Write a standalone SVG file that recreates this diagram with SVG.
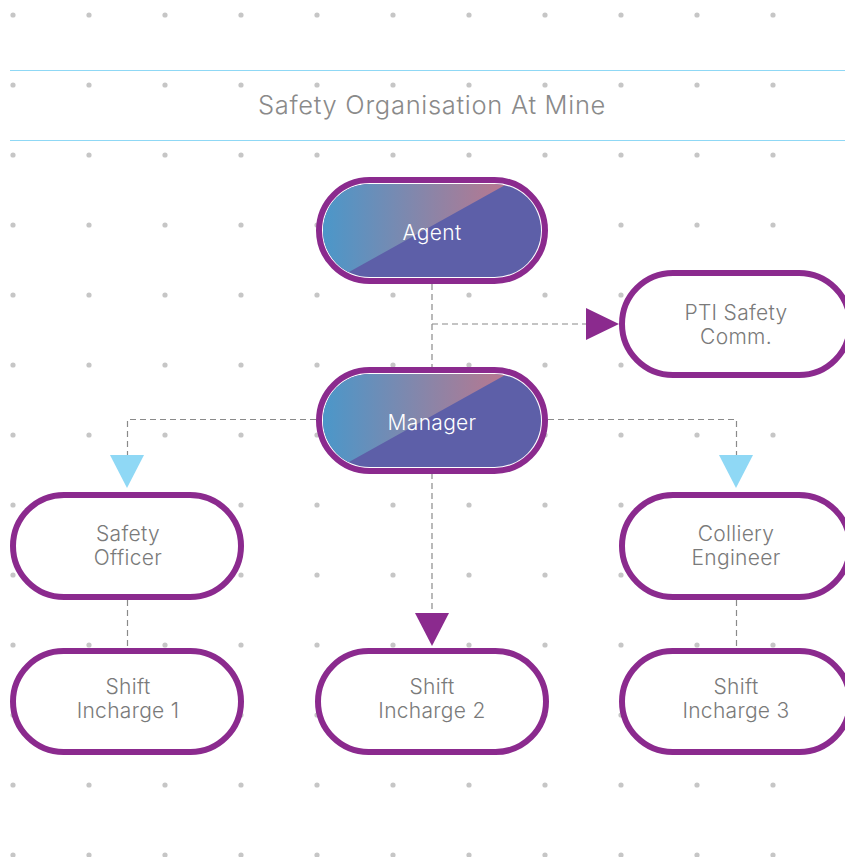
<svg xmlns="http://www.w3.org/2000/svg" width="845" height="857" viewBox="0 0 845 857">
  <defs>
    <style>
      .rule { stroke: #8fd8f5; stroke-width: 1.2; }
      .title { font-family: "Inter", "Lato", "Liberation Sans", sans-serif; font-weight: 300; font-size: 25.5px; fill: #8a8a8a; letter-spacing: 0.7px; }
      .pill { fill: #ffffff; stroke: #8b2a8e; stroke-width: 6; }
      .label { font-family: "Inter", "Lato", "Liberation Sans", sans-serif; font-weight: 300; font-size: 21px; fill: #7a7a7a; text-anchor: middle; letter-spacing: 0.3px; }
      .label-light { fill: #ffffff; }
      .link { fill: none; stroke: #8a8a8a; stroke-width: 1.2; stroke-dasharray: 6 4; }
      .head-purple { fill: #8b2a8e; }
      .head-blue { fill: #8fd8f5; }
    </style>
    <pattern id="dots" patternUnits="userSpaceOnUse" x="0" y="0" width="76" height="70">
      <circle cx="13" cy="15" r="2.6" fill="#c6c6c6"/>
    </pattern>
    <linearGradient id="sweep" x1="0" y1="0" x2="1" y2="0">
      <stop offset="0" stop-color="#4b97c9"/>
      <stop offset="1" stop-color="#b9778f"/>
    </linearGradient>
    <clipPath id="clip-agent">
      <rect x="323" y="184" width="218" height="93" rx="46.5"/>
    </clipPath>
    <clipPath id="clip-manager">
      <rect x="323" y="374" width="218" height="93" rx="46.5"/>
    </clipPath>
  </defs>

  <!-- background dot grid -->
  <rect x="0" y="0" width="845" height="857" fill="#ffffff"/>
  <rect x="0" y="0" width="845" height="857" fill="url(#dots)"/>

  <!-- title band -->
  <line class="rule" x1="10" y1="70.5" x2="845" y2="70.5"/>
  <line class="rule" x1="10" y1="140.5" x2="845" y2="140.5"/>
  <text class="title" x="432" y="114" text-anchor="middle">Safety Organisation At Mine</text>

  <!-- connectors -->
  <g id="connectors">
    <path class="link" d="M432 284 V367"/>
    <path class="link" d="M432 324 H588"/>
    <polygon class="head-purple" points="586,308 619,324 586,340"/>
    <path class="link" d="M316 419.5 H127.5 V458"/>
    <polygon class="head-blue" points="110,455 144,455 127,488"/>
    <path class="link" d="M548 419.5 H736.5 V458"/>
    <polygon class="head-blue" points="719,455 753,455 736,488"/>
    <path class="link" d="M432 473 V615"/>
    <polygon class="head-purple" points="415,613 449,613 432,646"/>
    <path class="link" d="M127.5 600 V648"/>
    <path class="link" d="M736.5 600 V648"/>
  </g>

  <!-- Agent -->
  <g id="node-agent">
    <rect class="pill" x="319" y="180" width="226" height="101" rx="50.5"/>
    <g clip-path="url(#clip-agent)">
      <rect x="323" y="184" width="218" height="93" fill="#5d5fa8"/>
      <polygon points="323,184 507,184 340,277 323,277" fill="url(#sweep)"/>
    </g>
    <text class="label label-light" x="432" y="240">Agent</text>
  </g>

  <!-- Manager -->
  <g id="node-manager">
    <rect class="pill" x="319" y="370" width="226" height="101" rx="50.5"/>
    <g clip-path="url(#clip-manager)">
      <rect x="323" y="374" width="218" height="93" fill="#5d5fa8"/>
      <polygon points="323,374 507,374 340,467 323,467" fill="url(#sweep)"/>
    </g>
    <text class="label label-light" x="432" y="430">Manager</text>
  </g>

  <!-- PTI Safety Comm. -->
  <g id="node-pti">
    <rect class="pill" x="622" y="273" width="228" height="102" rx="51"/>
    <text class="label" x="736" y="320">PTI Safety</text>
    <text class="label" x="736" y="344">Comm.</text>
  </g>

  <!-- Safety Officer -->
  <g id="node-safety-officer">
    <rect class="pill" x="13" y="495" width="228" height="102" rx="51"/>
    <text class="label" x="128" y="541">Safety</text>
    <text class="label" x="128" y="565">Officer</text>
  </g>

  <!-- Colliery Engineer -->
  <g id="node-colliery-engineer">
    <rect class="pill" x="622" y="495" width="228" height="102" rx="51"/>
    <text class="label" x="736" y="541">Colliery</text>
    <text class="label" x="736" y="565">Engineer</text>
  </g>

  <!-- Shift Incharge 1 -->
  <g id="node-shift-1">
    <rect class="pill" x="13" y="651" width="228" height="101" rx="50.5"/>
    <text class="label" x="128" y="694">Shift</text>
    <text class="label" x="128" y="718">Incharge 1</text>
  </g>

  <!-- Shift Incharge 2 -->
  <g id="node-shift-2">
    <rect class="pill" x="318" y="651" width="228" height="101" rx="50.5"/>
    <text class="label" x="432" y="694">Shift</text>
    <text class="label" x="432" y="718">Incharge 2</text>
  </g>

  <!-- Shift Incharge 3 -->
  <g id="node-shift-3">
    <rect class="pill" x="622" y="651" width="228" height="101" rx="50.5"/>
    <text class="label" x="736" y="694">Shift</text>
    <text class="label" x="736" y="718">Incharge 3</text>
  </g>
</svg>
